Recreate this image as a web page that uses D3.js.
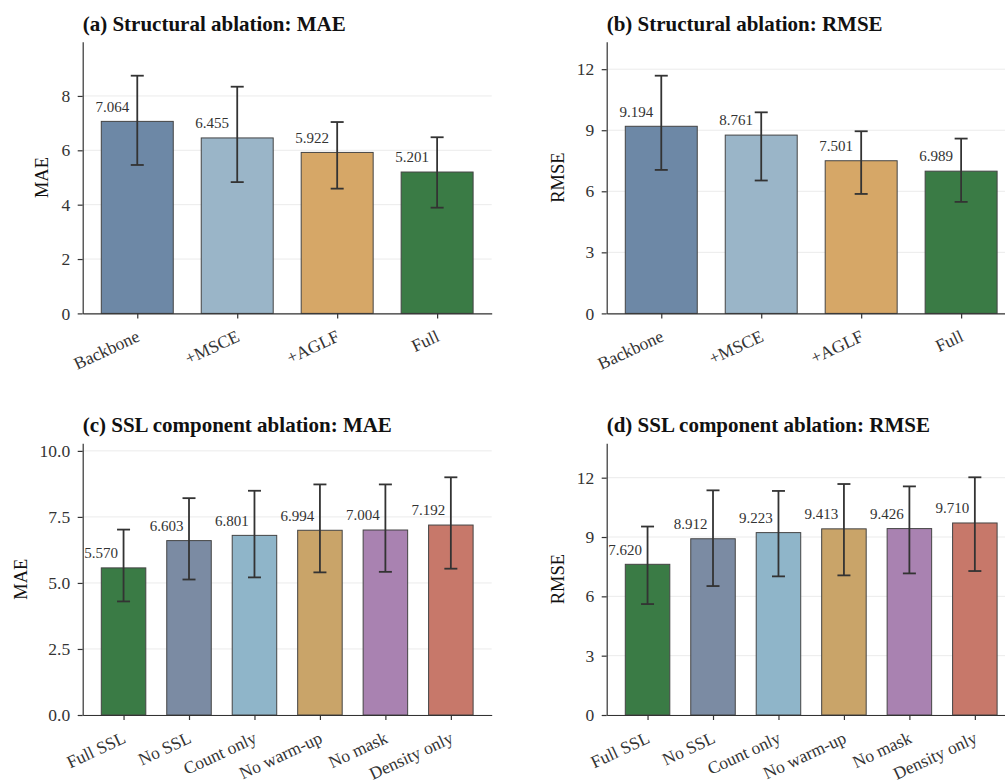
<!DOCTYPE html>
<html>
<head>
<meta charset="utf-8">
<script src="https://cdn.jsdelivr.net/npm/d3@7"></script>
<style>
  body { margin: 0; background: #fff; }
  svg { display: block; }
  text { font-family: "Liberation Serif", "Times New Roman", serif; }
</style>
</head>
<body>
<svg id="fig" width="1005" height="781"></svg>
<script>
// structural ablation
const structCats = ["Backbone", "+MSCE", "+AGLF", "Full"];
const structColors = ["#6d88a6", "#9ab5c8", "#d6a767", "#3a7b45"];
const structMae = [7.064, 6.455, 5.922, 5.201];
const structMaeLo = [5.46, 4.83, 4.59, 3.89];
const structMaeHi = [8.745, 8.34, 7.04, 6.48];
const structRmse = [9.194, 8.761, 7.501, 6.989];
const structRmseLo = [7.05, 6.53, 5.87, 5.48];
const structRmseHi = [11.68, 9.88, 8.95, 8.59];

// SSL component ablation
const sslCats = ["Full SSL", "No SSL", "Count only", "No warm-up", "No mask", "Density only"];
const sslColors = ["#3a7b45", "#7b8ba3", "#8fb5c9", "#c9a469", "#a982b1", "#c7786a"];
const sslMae = [5.570, 6.603, 6.801, 6.994, 7.004, 7.192];
const sslMaeLo = [4.30, 5.13, 5.21, 5.40, 5.42, 5.54];
const sslMaeHi = [7.02, 8.21, 8.49, 8.73, 8.73, 9.00];
const sslRmse = [7.620, 8.912, 9.223, 9.413, 9.426, 9.710];
const sslRmseLo = [5.61, 6.52, 7.01, 7.06, 7.16, 7.28];
const sslRmseHi = [9.53, 11.36, 11.33, 11.68, 11.56, 12.02];

const maeTicks = [0, 2, 4, 6, 8];
const rmseTicks = [0, 3, 6, 9, 12];
const sslMaeTicks = [0, 2.5, 5, 7.5, 10];

const svg = d3.select("#fig");

function drawPanel(o) {
  const n = o.cats.length;
  const pw = 409, top = o.top, bottom = o.top + 271.7;
  const m = 0.05 * (n - 1 + o.width);
  const x = d3.scaleLinear()
    .domain([-o.width / 2 - m, n - 1 + o.width / 2 + m])
    .range([o.left, o.left + pw]);
  const y = d3.scaleLinear()
    .domain([0, d3.max(o.hi) * 1.143])
    .range([bottom, top]);
  const bw = x(o.width) - x(0);

  const g = svg.append("g");

  // grid
  g.selectAll("line.grid").data(o.ticks).enter().append("line")
    .attr("x1", o.left).attr("x2", o.left + pw)
    .attr("y1", d => y(d)).attr("y2", d => y(d))
    .attr("stroke", "#ebebeb").attr("stroke-width", 1);

  // bars
  g.selectAll("rect").data(o.values).enter().append("rect")
    .attr("x", (d, i) => x(i) - bw / 2)
    .attr("width", bw)
    .attr("y", d => y(d))
    .attr("height", d => y(0) - y(d))
    .attr("fill", (d, i) => o.colors[i])
    .attr("stroke", "#444").attr("stroke-width", 1);

  // error bars
  const eb = g.selectAll("g.err").data(o.values).enter().append("g");
  eb.append("line")
    .attr("x1", (d, i) => x(i)).attr("x2", (d, i) => x(i))
    .attr("y1", (d, i) => y(o.lo[i])).attr("y2", (d, i) => y(o.hi[i]));
  eb.append("line")
    .attr("x1", (d, i) => x(i) - 6.5).attr("x2", (d, i) => x(i) + 6.5)
    .attr("y1", (d, i) => y(o.hi[i])).attr("y2", (d, i) => y(o.hi[i]));
  eb.append("line")
    .attr("x1", (d, i) => x(i) - 6.5).attr("x2", (d, i) => x(i) + 6.5)
    .attr("y1", (d, i) => y(o.lo[i])).attr("y2", (d, i) => y(o.lo[i]));
  eb.selectAll("line").attr("stroke", "#333").attr("stroke-width", 1.8);

  // value labels
  g.selectAll("text.val").data(o.values).enter().append("text")
    .attr("x", (d, i) => x(i) + o.labelShift)
    .attr("y", d => y(d) - 9.7)
    .attr("text-anchor", "middle")
    .attr("font-size", 15)
    .attr("fill", "#333")
    .text(d => d.toFixed(3));

  // axes
  const ya = g.append("g")
    .attr("transform", `translate(${o.left},0)`)
    .call(d3.axisLeft(y).tickValues(o.ticks).tickSize(5).tickSizeOuter(0).tickPadding(7.5)
      .tickFormat(o.fmt));
  const xa = g.append("g")
    .attr("transform", `translate(0,${bottom})`)
    .call(d3.axisBottom(x).tickValues(d3.range(n)).tickSize(5).tickSizeOuter(0)
      .tickFormat(i => o.cats[i]));

  [ya, xa].forEach(a => {
    a.select(".domain").attr("stroke", "#333").attr("stroke-width", 1.2);
    a.selectAll(".tick line").attr("stroke", "#333").attr("stroke-width", 1.2);
    a.selectAll("text").attr("fill", "#333").attr("font-size", 17.5)
      .attr("font-family", "Liberation Serif, Times New Roman, serif");
  });
  xa.selectAll(".tick text")
    .attr("y", null).attr("dy", null)
    .attr("text-anchor", "end")
    .attr("transform", "translate(3,27) rotate(-25)");

  // y label
  const bb = ya.node().getBBox();
  g.append("text")
    .attr("transform", `translate(${o.left + bb.x - 13},${(top + bottom) / 2}) rotate(-90)`)
    .attr("text-anchor", "middle")
    .attr("font-size", 18.5)
    .attr("fill", "#111")
    .text(o.ylabel);

  // title
  g.append("text")
    .attr("x", o.left).attr("y", top - 11)
    .attr("font-size", 21).attr("font-weight", "bold")
    .attr("fill", "#111")
    .text(o.title);
}

const f0 = d3.format("d"), f1 = d3.format(".1f");

drawPanel({ title: "(a) Structural ablation: MAE", ylabel: "MAE", left: 82.7, top: 41.7,
  cats: structCats, colors: structColors, values: structMae, lo: structMaeLo, hi: structMaeHi,
  ticks: maeTicks, fmt: f0, width: 0.72, labelShift: -25 });
drawPanel({ title: "(b) Structural ablation: RMSE", ylabel: "RMSE", left: 606.7, top: 41.7,
  cats: structCats, colors: structColors, values: structRmse, lo: structRmseLo, hi: structRmseHi,
  ticks: rmseTicks, fmt: f0, width: 0.72, labelShift: -25 });
drawPanel({ title: "(c) SSL component ablation: MAE", ylabel: "MAE", left: 82.7, top: 443.3,
  cats: sslCats, colors: sslColors, values: sslMae, lo: sslMaeLo, hi: sslMaeHi,
  ticks: sslMaeTicks, fmt: f1, width: 0.68, labelShift: -22.5 });
drawPanel({ title: "(d) SSL component ablation: RMSE", ylabel: "RMSE", left: 606.7, top: 443.3,
  cats: sslCats, colors: sslColors, values: sslRmse, lo: sslRmseLo, hi: sslRmseHi,
  ticks: rmseTicks, fmt: f0, width: 0.68, labelShift: -22.5 });
</script>
</body>
</html>
